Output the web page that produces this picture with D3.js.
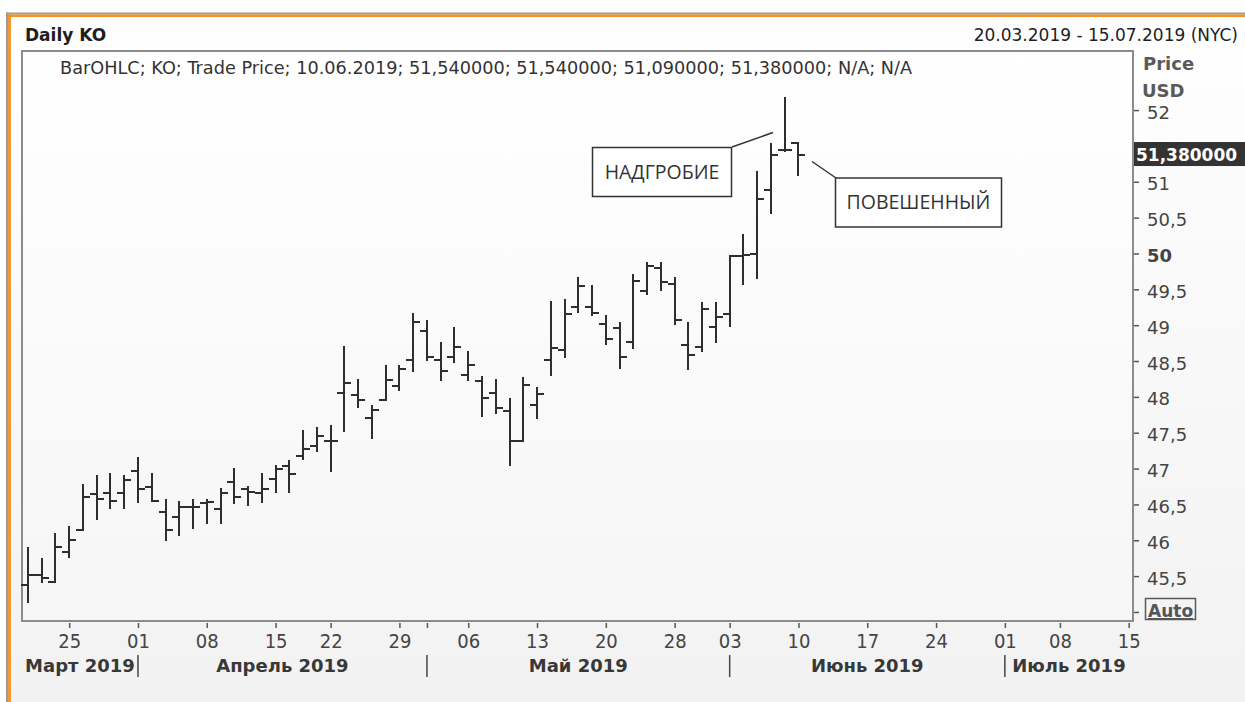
<!DOCTYPE html>
<head>
  <meta charset="utf-8">
  <script src="https://d3js.org/d3.v7.min.js"></script>
  <style>
    body { margin: 0; background: #fff; }
    text { font-family: 'DejaVu Sans', sans-serif; fill: #404040; }
    .hdr { font-size: 17px; fill: #1e1e1e; }
    .info { font-size: 17.7px; fill: #333; }
    .yaxis text { font-size: 18px; fill: #444; }
    .xaxis text { font-family: 'Liberation Sans Narrow', 'DejaVu Sans Condensed', sans-serif; font-size: 20px; fill: #444; }
    .month { font-size: 18px; font-weight: bold; fill: #383838; }
    .unit { font-size: 18px; font-weight: bold; fill: #5a5a5a; }
    .note { font-family: 'Open Sans', sans-serif; font-size: 19.5px; fill: #333; }
  </style>
</head>
<body>
<div id="chart"></div>
<script>

// ---------------- data ----------------
const firstDay = "2019-03-20", lastDay = "2019-07-15";
const holidays = ["2019-04-19", "2019-05-27", "2019-07-04"];

// daily OHLC, 20.03.2019 .. 10.06.2019
const opens  = [45.38,45.51,45.42,45.83,46.15,46.65,46.66,46.66,46.96,46.74,
                46.40,46.33,46.46,46.52,46.43,46.81,46.71,46.66,46.86,47.03,
                47.18,47.31,47.39,48.06,48.02,47.71,47.96,48.15,48.52,48.92,
                48.52,48.56,48.31,48.22,48.05,47.80,47.39,47.89,48.52,48.65,
                49.25,49.25,49.02,48.96,48.77,49.47,49.80,49.57,48.72,48.69,
                48.97,49.15,49.97,49.99,50.88,51.45,51.54];
const highs  = [45.89,45.74,46.09,46.19,46.77,46.90,46.93,46.90,47.15,46.93,
                46.56,46.53,46.56,46.56,46.72,46.99,46.74,46.93,47.03,47.10,
                47.53,47.57,47.60,48.70,48.23,47.87,48.43,48.43,49.15,49.06,
                48.75,48.96,48.62,48.28,48.23,47.97,48.27,48.12,49.32,49.35,
                49.66,49.54,49.13,49.03,49.70,49.87,49.87,49.66,49.03,49.31,
                49.31,49.96,50.26,51.13,51.52,52.17,51.54];
const lows   = [45.14,45.42,45.42,45.76,46.15,46.29,46.45,46.45,46.54,46.55,
                46.00,46.08,46.17,46.24,46.24,46.52,46.49,46.54,46.67,46.67,
                47.13,47.24,46.96,47.52,47.86,47.43,47.96,48.09,48.36,48.51,
                48.24,48.48,48.24,47.73,47.77,47.05,47.39,47.70,48.30,48.55,
                49.18,49.14,48.74,48.40,48.68,49.44,49.49,49.02,48.39,48.64,
                48.77,48.99,49.58,49.66,50.56,51.43,51.09];
const closes = [45.51,45.48,45.90,46.01,46.61,46.58,46.55,46.84,46.71,46.55,
                46.15,46.46,46.46,46.53,46.66,46.61,46.68,46.71,46.99,46.93,
                47.27,47.46,47.39,48.19,47.96,47.81,48.24,48.39,49.05,48.56,
                48.36,48.69,48.44,47.99,47.84,47.39,48.17,48.04,48.68,49.15,
                49.55,49.17,48.81,48.56,49.62,49.82,49.60,49.07,48.59,49.22,
                49.12,49.96,49.98,50.76,51.38,51.45,51.38];

const weekTicks = ["2019-03-25","2019-04-01","2019-04-08","2019-04-15","2019-04-22","2019-04-29",
                   "2019-05-06","2019-05-13","2019-05-20","2019-05-28","2019-06-03","2019-06-10",
                   "2019-06-17","2019-06-24","2019-07-01","2019-07-08","2019-07-15"];
const monthStarts = ["2019-04-01","2019-05-01","2019-06-03","2019-07-01"];
const monthNames = ["Март 2019","Апрель 2019","Май 2019","Июнь 2019","Июль 2019"];
const priceTicks = [45, 45.5, 46, 46.5, 47, 47.5, 48, 48.5, 49, 49.5, 50, 50.5, 51, 51.5, 52];
const lastPrice = 51.38;
const infoLine = "BarOHLC; KO; Trade Price; 10.06.2019; 51,540000; 51,540000; 51,090000; 51,380000; N/A; N/A";

// ---------------- setup ----------------
const W = 1245, H = 702;
const plot = {left: 22, top: 51, right: 1133, bottom: 621};

const parse = d3.utcParse("%Y-%m-%d"), fmt = d3.utcFormat("%Y-%m-%d");
const tradingDays = d3.utcDays(parse(firstDay), d3.utcDay.offset(parse(lastDay), 1))
  .filter(d => d.getUTCDay() !== 0 && d.getUTCDay() !== 6 && !holidays.includes(fmt(d)))
  .map(fmt);

const bars = opens.map((o, i) => ({date: tradingDays[i], o: o, h: highs[i], l: lows[i], c: closes[i]}));

const x = d3.scalePoint().domain(tradingDays).range([27.9, 1128.7]);
const y = d3.scaleLinear().domain([44.874, 52.824]).range([plot.bottom, plot.top]);

const svg = d3.select("#chart").append("svg")
  .attr("width", W).attr("height", H);

const defs = svg.append("defs");
const bg = defs.append("linearGradient").attr("id", "bg").attr("x1", 0).attr("y1", 0).attr("x2", 0).attr("y2", 1);
bg.append("stop").attr("offset", "0").attr("stop-color", "#ffffff");
bg.append("stop").attr("offset", "0.2").attr("stop-color", "#fcfcfc");
bg.append("stop").attr("offset", "1").attr("stop-color", "#f2f2f2");
const pg = defs.append("linearGradient").attr("id", "pg").attr("x1", 0).attr("y1", 0).attr("x2", 0).attr("y2", 1);
pg.append("stop").attr("offset", "0").attr("stop-color", "#ffffff");
pg.append("stop").attr("offset", "1").attr("stop-color", "#f6f6f6");

// outer frame
svg.append("rect").attr("x", 11).attr("y", 17).attr("width", W - 11).attr("height", H - 17).attr("fill", "url(#bg)");
svg.append("line").attr("x1", 6).attr("x2", W).attr("y1", 13.5).attr("y2", 13.5).attr("stroke", "#9c9c9c").attr("stroke-width", 2);
svg.append("line").attr("x1", 7).attr("x2", 7).attr("y1", 12.5).attr("y2", H).attr("stroke", "#9c9c9c").attr("stroke-width", 2);
svg.append("line").attr("x1", 8).attr("x2", W).attr("y1", 15.8).attr("y2", 15.8).attr("stroke", "#f7901e").attr("stroke-width", 2.6);
svg.append("line").attr("x1", 9.5).attr("x2", 9.5).attr("y1", 14.5).attr("y2", H).attr("stroke", "#f7901e").attr("stroke-width", 2.8);

// header
svg.append("text").attr("class", "hdr").attr("x", 25).attr("y", 40.5)
  .style("font-weight", "bold").text("Daily KO");
svg.append("text").attr("class", "hdr").attr("x", 1238).attr("y", 40.5)
  .attr("text-anchor", "end").text("20.03.2019 - 15.07.2019 (NYC)");

// plot area
svg.append("rect")
  .attr("x", plot.left).attr("y", plot.top)
  .attr("width", plot.right - plot.left).attr("height", plot.bottom - plot.top)
  .attr("fill", "url(#pg)").attr("stroke", "#8c8c8c").attr("stroke-width", 2);

svg.append("text").attr("class", "info").attr("x", 60).attr("y", 74).text(infoLine);

// ---------------- y axis ----------------
const comma = d3.format(".1~f");
const yAxis = d3.axisRight(y)
  .tickValues(priceTicks)
  .tickSize(5)
  .tickPadding(8)
  .tickFormat(d => d === 45 ? "" : comma(d).replace(".", ","));

const gy = svg.append("g").attr("class", "yaxis")
  .attr("transform", `translate(${plot.right + 1},0)`)
  .call(yAxis);
gy.select(".domain").remove();
gy.selectAll(".tick line").attr("stroke", "#555").attr("stroke-width", 1.5);
gy.selectAll(".tick text").attr("dy", "0.45em")
  .style("font-weight", d => d === 50 ? "bold" : null);

svg.append("text").attr("class", "unit").attr("x", 1143).attr("y", 70).text("Price");
svg.append("text").attr("class", "unit").attr("x", 1142).attr("y", 96.5).text("USD");

// "Auto" box at the bottom of the scale
svg.append("rect").attr("x", 1145.5).attr("y", 598.5).attr("width", 50).attr("height", 21)
  .attr("fill", "none").attr("stroke", "#5a5a5a").attr("stroke-width", 1.5);
svg.append("text").attr("x", 1148).attr("y", 617).style("font-size", "17px")
  .style("font-weight", "bold").style("fill", "#555").style("text-decoration", "underline").text("Auto");

// last price tag (drawn over the 51,5 label, as in the terminal)
svg.append("rect").attr("x", 1134).attr("y", y(lastPrice) - 12.5).attr("width", W - 1134).attr("height", 24)
  .attr("fill", "#333");
svg.append("text").attr("x", 1136).attr("y", y(lastPrice) + 6.5)
  .style("font-size", "17px").style("font-weight", "bold").style("fill", "#fff")
  .text(d3.format(".6f")(lastPrice).replace(".", ","));

// ---------------- x axis ----------------
const xTickVals = tradingDays.filter(d => weekTicks.includes(d) || monthStarts.includes(d));
const xAxis = d3.axisBottom(x)
  .tickValues(xTickVals)
  .tickSize(5)
  .tickPadding(6)
  .tickFormat(d => weekTicks.includes(d) ? d.slice(8) : "");

const gx = svg.append("g").attr("class", "xaxis")
  .attr("transform", `translate(0,${plot.bottom + 2})`)
  .call(xAxis);
gx.select(".domain").remove();
gx.selectAll(".tick line").attr("stroke", "#555").attr("stroke-width", 1.5);

// month separators and labels
const sepX = monthStarts.map(d => x(d));
svg.selectAll(".msep").data(sepX).enter().append("line")
  .attr("class", "msep")
  .attr("x1", d => d).attr("x2", d => d)
  .attr("y1", 655).attr("y2", 677)
  .attr("stroke", "#444").attr("stroke-width", 1.5);

const bounds = [plot.left].concat(sepX, [plot.right]);
svg.selectAll(".month").data(monthNames).enter().append("text")
  .attr("class", "month")
  .attr("y", 672)
  .attr("text-anchor", "middle")
  .text(d => d)
  .attr("x", function(d, i) {
    const w = this.getComputedTextLength();
    let cx = (bounds[i] + bounds[i + 1]) / 2;
    if (cx + w / 2 > bounds[i + 1] - 2 && i === 0) cx = bounds[i + 1] - 2 - w / 2;
    return Math.max(cx, 15 + w / 2);
  });

// ---------------- OHLC bars ----------------
const g = svg.append("g")
  .attr("stroke", "#2e2e2e").attr("stroke-width", 2).attr("shape-rendering", "crispEdges");

const bar = g.selectAll(".bar").data(bars).enter().append("g").attr("class", "bar");
bar.append("line")
  .attr("x1", d => x(d.date)).attr("x2", d => x(d.date))
  .attr("y1", d => y(d.h) - 1).attr("y2", d => y(d.l) + 1);
bar.append("line")
  .attr("x1", d => x(d.date) - 7).attr("x2", d => x(d.date))
  .attr("y1", d => y(d.o)).attr("y2", d => y(d.o));
bar.append("line")
  .attr("x1", d => x(d.date)).attr("x2", d => x(d.date) + 7)
  .attr("y1", d => y(d.c)).attr("y2", d => y(d.c));

// ---------------- annotations ----------------
const notes = [
  {text: "НАДГРОБИЕ", box: [592.5, 147.5, 139, 49], line: [732, 147, 773, 132.5]},
  {text: "ПОВЕШЕННЫЙ", box: [835.5, 178, 166, 49], line: [812, 161.5, 836, 178]}
];
const ng = svg.selectAll(".note-g").data(notes).enter().append("g");
ng.append("line")
  .attr("x1", d => d.line[0]).attr("y1", d => d.line[1])
  .attr("x2", d => d.line[2]).attr("y2", d => d.line[3])
  .attr("stroke", "#333").attr("stroke-width", 1.5);
ng.append("rect")
  .attr("x", d => d.box[0]).attr("y", d => d.box[1])
  .attr("width", d => d.box[2]).attr("height", d => d.box[3])
  .attr("fill", "#fff").attr("stroke", "#333").attr("stroke-width", 1.5);
ng.append("text").attr("class", "note")
  .attr("x", d => d.box[0] + d.box[2] / 2)
  .attr("y", d => d.box[1] + 31)
  .attr("text-anchor", "middle")
  .text(d => d.text);

</script>
</body>
